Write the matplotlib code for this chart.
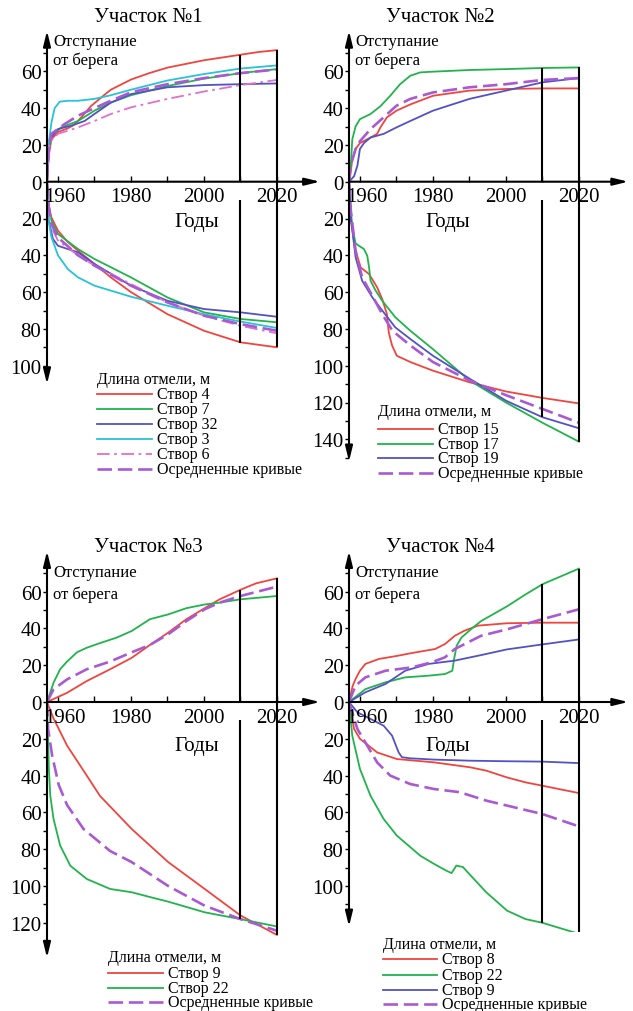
import numpy as np
import matplotlib.pyplot as plt
from matplotlib.lines import Line2D

plt.rcParams['font.family'] = ['Liberation Serif', 'DejaVu Serif']

# ---- data: (year, value); lower-panel values are shelf length (plotted downwards)
# Участок 1, отступание
p1_up_s4 = [(1957, 0), (1957.3, 12), (1958.2, 23), (1960, 27), (1962.7, 29), (1964.5, 31), (1966.4, 35),
            (1969, 41), (1972, 46), (1974.5, 50), (1980, 55.5), (1985, 59), (1990, 62), (1995, 64),
            (2000, 66), (2005, 67.5), (2010, 69), (2015, 70.5), (2020, 71.5)]
p1_up_s7 = [(1957, 0), (1957.5, 18), (1958.2, 25), (1960.9, 29.5), (1965.5, 33), (1970, 38.6), (1974.5, 43),
            (1980, 47), (1990, 52), (2000, 56), (2010, 59), (2020, 61.2)]
p1_up_s32 = [(1957, 0), (1957.5, 15), (1957.7, 23), (1960, 28.6), (1963.6, 30.4), (1967.3, 33), (1970, 36.8),
             (1974.5, 43), (1980, 47.6), (1990, 51.3), (2000, 52.5), (2010, 53), (2020, 53.4)]
p1_up_s3 = [(1957, 0), (1957.3, 18), (1958.2, 32), (1959.1, 40), (1960.5, 43.5), (1962.7, 44), (1965.5, 44),
            (1970, 45), (1974.5, 47), (1980, 50), (1990, 55), (2000, 58.5), (2010, 61.5), (2020, 63.2)]
p1_up_s6 = [(1957, 0), (1957.5, 14), (1957.7, 21.4), (1960, 26), (1965.5, 29.5), (1970, 33), (1974.5, 36.8),
            (1980, 40.4), (1990, 45), (2000, 49), (2010, 52.5), (2020, 55.3)]
p1_up_avg = [(1957, 0), (1957.5, 18), (1958.2, 26), (1961.8, 31.3), (1965.5, 35.9), (1970, 40), (1974.5, 44),
             (1980, 48.6), (1990, 53), (2000, 56.3), (2010, 59), (2020, 61)]
# Участок 1, длина отмели
p1_dn_s4 = [(1957, 0), (1957.3, 12), (1958.2, 19.4), (1960, 26.6), (1962.7, 32.8), (1965.5, 37.5), (1970, 44.7),
            (1974.5, 52), (1980, 60), (1990, 72), (2000, 81), (2010, 87.3), (2020, 90)]
p1_dn_s7 = [(1957, 0), (1957.3, 10), (1958.2, 21), (1960, 28.4), (1965.5, 36.6), (1970, 42), (1980, 52),
            (1990, 62.9), (2000, 71), (2010, 74.6), (2020, 76.4)]
p1_dn_s32 = [(1957, 0), (1957.3, 19.4), (1958.6, 31), (1960, 34.8), (1962.7, 36.6), (1965.5, 38.4), (1970, 44.7),
             (1980, 56.5), (1990, 64.7), (2000, 69.2), (2010, 71), (2020, 73.4)]
p1_dn_s3 = [(1957, 0), (1957.3, 19.4), (1958.2, 30), (1960, 40), (1962.7, 47.5), (1965.5, 52), (1970, 56.5),
            (1974.5, 59.2), (1980, 62.5), (1990, 67.4), (2000, 72), (2010, 76), (2020, 79.5)]
p1_dn_s6 = [(1957, 0), (1957.5, 15), (1958.2, 24.8), (1960, 32), (1965.5, 40), (1970, 45.6), (1980, 55.6),
            (1990, 65.6), (2000, 72.8), (2010, 78.3), (2020, 82.4)]
p1_dn_avg = [(1957, 0), (1957.5, 14), (1958.2, 23), (1960, 30.3), (1965.5, 40), (1970, 45.6), (1980, 56.5),
             (1990, 65.6), (2000, 72.8), (2010, 77.4), (2020, 81)]

# Участок 2
p2_up_s15 = [(1957, 0), (1957.3, 3), (1957.9, 12), (1958.8, 17.8), (1960, 21), (1962.9, 24), (1964.7, 26),
             (1965.6, 29.5), (1967.4, 35), (1970, 38.6), (1973.8, 42), (1980, 46.7), (1990, 49.5), (2000, 50.4),
             (2010, 50.7), (2020, 50.7)]
p2_up_s17 = [(1957, 0), (1957.5, 9), (1957.9, 23), (1958.8, 30), (1960, 34), (1962.9, 36.8), (1965.6, 41),
             (1968.3, 46.7), (1971, 53), (1973.8, 57.6), (1976.5, 59.4), (1980, 59.8), (1990, 60.7), (2000, 61.2),
             (2010, 61.8), (2020, 62.1)]
p2_up_s19 = [(1957, 0), (1958.4, 3), (1959.3, 8.7), (1960, 17.8), (1961.1, 21), (1962.9, 24), (1966.5, 26),
             (1970, 29.5), (1973.8, 33), (1980, 38.6), (1990, 45), (2000, 49.5), (2010, 54), (2020, 56.3)]
p2_up_avg = [(1957, 0), (1957.5, 9), (1958.8, 17.8), (1960, 22), (1962.9, 28.6), (1966.5, 35), (1970, 41.3),
             (1973.8, 45), (1980, 48.5), (1990, 51.3), (2000, 53), (2010, 55.3), (2020, 56.3)]
p2_dn_s15 = [(1957, 0), (1957.5, 21), (1958.8, 37.5), (1960.2, 46.6), (1962.5, 50.2), (1964.7, 57.4),
             (1966.1, 63.8), (1967.4, 72), (1967.9, 82), (1968.8, 89), (1970.1, 94.6), (1973.8, 98),
             (1980, 102.7), (1990, 109), (2000, 114), (2010, 117.5), (2020, 120.5)]
p2_dn_s17 = [(1957, 0), (1957.3, 10), (1957.9, 24.8), (1958.8, 33.5), (1959.7, 34.8), (1961.1, 36.6),
             (1962, 40.2), (1962.5, 46.6), (1962.9, 53.8), (1964.3, 59.2), (1966.1, 64.7), (1969.7, 73.7),
             (1973.8, 81), (1980, 91), (1990, 108), (2000, 120), (2010, 131), (2020, 141.3)]
p2_dn_s19 = [(1957, 0), (1957.5, 19.4), (1958.8, 41), (1960.6, 53.8), (1963.4, 62.9), (1966.1, 70),
             (1969.7, 79.2), (1973.8, 85.5), (1980, 94.6), (1990, 107), (2000, 119), (2010, 128), (2020, 134)]
p2_dn_avg = [(1957, 0), (1957.5, 15.8), (1958.8, 37.5), (1960.6, 52), (1963.4, 62), (1966.1, 72),
             (1968.9, 81), (1973.8, 89), (1980, 98), (1990, 108), (2000, 116), (2010, 123.5), (2020, 131)]

# Участок 3
p3_up_s9 = [(1957, 0), (1962.5, 5), (1967.9, 11.4), (1974.3, 17.8), (1980.2, 24), (1985.2, 31), (1990.2, 37.7),
            (1995.2, 45), (2000.2, 51), (2004.3, 55.8), (2010, 61), (2014.3, 64.5), (2020, 67.2)]
p3_up_s22 = [(1957, 0), (1958.8, 10.5), (1960.6, 17.8), (1962.5, 22), (1965.2, 27), (1967.9, 29.5),
             (1971.5, 32), (1976.1, 35), (1980.2, 38.6), (1985.2, 45), (1990.2, 47.6), (1995.2, 51),
             (2000.2, 53), (2004.3, 54), (2010, 55.8), (2020, 57.6)]
p3_up_avg = [(1957, 0), (1958.8, 6.9), (1962.5, 12.3), (1967.9, 17.8), (1974.3, 22), (1980.2, 27),
             (1985.2, 31), (1990.2, 36.8), (1995.2, 44), (2000.2, 50.4), (2004.3, 54), (2010, 57.6), (2020, 62.7)]
p3_dn_s9 = [(1957, 0), (1958.8, 9), (1962.5, 23.7), (1967.9, 40), (1971.5, 51), (1980.2, 69), (1990.2, 87),
            (2000.2, 101.6), (2010, 116), (2020, 126.6)]
p3_dn_s22 = [(1957, 0), (1957.1, 9), (1957.3, 20), (1957.5, 36), (1957.9, 51), (1958.8, 63.6), (1960.6, 78),
             (1963.4, 89), (1967.9, 96.2), (1974.3, 101.6), (1980.2, 103.4), (1985.2, 106), (1990.2, 108.5),
             (2000.2, 114.3), (2010, 118), (2020, 122)]
p3_dn_avg = [(1957, 0), (1957.3, 14.7), (1958.4, 29), (1960.2, 45), (1962.5, 56), (1967, 69), (1974.3, 81),
             (1980.2, 87), (1990.2, 100), (2000.2, 110.7), (2010, 118), (2020, 124.3)]

# Участок 4
p4_up_s8 = [(1957, 0), (1958, 8.7), (1958.8, 12.5), (1960, 17), (1961.5, 20.7), (1965.2, 23.4), (1970, 25),
            (1974.2, 26.6), (1980.6, 28.8), (1983.3, 31.5), (1986, 36), (1988.7, 38.8), (1992.3, 41.5),
            (2000.3, 42.8), (2010, 43.1), (2020, 43.1)]
p4_up_s22 = [(1957, 0), (1961.5, 7), (1967, 10.7), (1972.4, 13.4), (1978.8, 14.3), (1983.3, 15.2),
             (1985.3, 17), (1985.8, 23.4), (1986.5, 30.6), (1987.8, 35), (1990.5, 39.7), (1993.2, 44),
             (2000.3, 52), (2005.4, 58.5), (2010, 64), (2020, 72.5)]
p4_up_s9 = [(1957, 0), (1961.5, 5.3), (1967, 9.8), (1972.4, 17), (1978.8, 20.7), (1986, 22.5), (1993.2, 25.5),
            (2000.3, 28.6), (2010, 31.3), (2020, 34)]
p4_up_avg = [(1957, 0), (1958.8, 8.9), (1961.5, 13.4), (1967, 17), (1974.2, 18.8), (1979.7, 21.6),
             (1983.3, 24.3), (1986, 28.8), (1990.5, 33.3), (1993.2, 36), (2000.3, 39.5), (2010, 45), (2020, 50.4)]
p4_dn_s8 = [(1957, 0), (1958.4, 14.7), (1960, 20), (1964.7, 27.4), (1970.1, 31), (1980.3, 32.8), (1990.2, 35.5),
            (1994.6, 37.3), (2000.3, 41), (2005.4, 43.7), (2010, 45.5), (2020, 49.5)]
p4_dn_s22 = [(1957, 0), (1957.9, 18.3), (1960, 36.4), (1962.9, 51), (1966.5, 63.6), (1970.1, 72.6),
             (1976.5, 83.5), (1980.3, 88), (1983.7, 91.7), (1985.1, 93), (1986.4, 88.9), (1988.2, 89.7),
             (1990.2, 94), (1994.6, 103.4), (2000.3, 113.4), (2005.4, 118), (2010, 120), (2020, 126)]
p4_dn_s9 = [(1957, 0), (1959.3, 5.6), (1962.9, 9.2), (1966.5, 12.9), (1968.8, 18.3), (1970.6, 27.4),
            (1971.5, 30), (1973.8, 30.6), (1980.3, 31.3), (1990.2, 31.9), (2000.3, 32.2), (2010, 32.4), (2020, 33.2)]
p4_dn_avg = [(1957, 0), (1959.3, 14.7), (1962, 23.7), (1964.7, 32.8), (1968.3, 40), (1973.8, 44.6),
             (1980.3, 47.3), (1987.3, 49), (1994.6, 53.6), (2000.3, 56.3), (2010, 60.9), (2020, 67.6)]

# legend labels
p1_labels = ['Створ 4', 'Створ 7', 'Створ 32', 'Створ 3', 'Створ 6', 'Осредненные кривые']
p2_labels = ['Створ 15', 'Створ 17', 'Створ 19', 'Осредненные кривые']
p3_labels = ['Створ 9', 'Створ 22', 'Осредненные кривые']
p4_labels = ['Створ 8', 'Створ 22', 'Створ 9', 'Осредненные кривые']

# vertical marks at 2010 / 2020 (top value, bottom value)
p1_vlines = [(69, 87.5), (71.5, 90)]
p2_vlines = [(61.8, 128), (62.1, 141.3)]
p3_vlines = [(61, 118), (67.2, 126.6)]
p4_vlines = [(64, 120), (72.5, 126)]

x_labels = [1960, 1980, 2000, 2020]

# ---- styles
RED = '#f0453f'
GREEN = '#22b34c'
BLUE = '#5252c4'
CYAN = '#27c3d6'
PINK = '#e070cc'
PURPLE = '#a95ad2'
sty = {
    'red': dict(color=RED, lw=1.3),
    'green': dict(color=GREEN, lw=1.3),
    'blue': dict(color=BLUE, lw=1.3),
    'cyan': dict(color=CYAN, lw=1.3),
    'pink': dict(color=PINK, lw=1.3, dashes=(7, 2.5, 1.5, 2.5)),
    'avg': dict(color=PURPLE, lw=1.9, dashes=(5.5, 2.2)),
}

W, H = 633, 1012
fig = plt.figure(figsize=(W / 100, H / 100), dpi=100)


def fx(x):
    return x / W


def fy(y):
    return 1 - y / H


X0, X1 = 1957, 2034
PX_YEAR = 3.65
PX_UNIT = 1.84


def make_panel(left, zero, top, bottom, xtip, ytop, ybot, ylab_max):
    ax = fig.add_axes([fx(left), fy(zero + bottom * PX_UNIT),
                       (X1 - X0) * PX_YEAR / W, (top + bottom) * PX_UNIT / H])
    ax.set_xlim(X0, X1)
    ax.set_ylim(-bottom, top)
    ax.patch.set_alpha(0)
    for s in ax.spines.values():
        s.set_visible(False)
    ax.spines['bottom'].set_position(('data', 0))
    ax.spines['left'].set_position(('data', X0))
    # ticks
    ax.set_xticks(np.arange(1960, 2021, 10))
    ax.set_xticklabels([])
    ax.tick_params(axis='x', direction='in', length=4, width=1)
    major = np.arange(-ylab_max, 61, 20)
    ax.set_yticks(major)
    ax.set_yticklabels([str(abs(int(v))) for v in major])
    ax.set_yticks(np.arange(-(ylab_max + 10 if ylab_max + 10 < ybot else ylab_max), 71, 10), minor=True)
    ax.tick_params(axis='y', which='both', direction='out', length=3, width=1, labelsize=15, pad=1)
    # axes with arrows
    arr = dict(arrowstyle='-|>,head_length=0.9,head_width=0.22', color='black', lw=1.5,
               shrinkA=0, shrinkB=0, mutation_scale=10)
    ax.annotate('', xy=(X0, ytop), xytext=(X0, 0), arrowprops=arr, annotation_clip=False)
    ax.annotate('', xy=(X0, -ybot), xytext=(X0, 0), arrowprops=arr, annotation_clip=False)
    ax.annotate('', xy=(xtip, 0), xytext=(X0, 0), arrowprops=arr, annotation_clip=False)
    # x labels
    for yr in x_labels:
        dx = 5 if yr == 1960 else 0
        ax.annotate(str(yr), xy=(yr, 0), xytext=(dx, -4), textcoords='offset points',
                    ha='center', va='top', fontsize=15)
    return ax


def draw_series(ax, up, dn, keys):
    for u, d, k in zip(up, dn, keys):
        ax.plot([p[0] for p in u], [p[1] for p in u], **sty[k])
        ax.plot([p[0] for p in d], [-p[1] for p in d], **sty[k])


def draw_vlines(ax, vl):
    (t1, b1), (t2, b2) = vl
    ax.vlines([2010, 2010, 2020], [0, -b1, -b2], [t1, -10, t2], color='black', lw=1.5)


def draw_legend(x_line, x_text, y_head, rows, labels, keys):
    fig.text(fx(x_line), fy(y_head), 'Длина отмели, м', ha='left', va='center', fontsize=11.5)
    for y, lab, k in zip(rows, labels, keys):
        fig.add_artist(Line2D([fx(x_line), fx(x_text - 5)], [fy(y), fy(y)], transform=fig.transFigure, **sty[k]))
        fig.text(fx(x_text), fy(y), lab, ha='left', va='center', fontsize=11.5)


def panel_texts(title, axis_x, title_x, god_x, title_y, ot_y, god_y):
    fig.text(fx(title_x), fy(title_y), title, ha='center', va='center', fontsize=15)
    fig.text(fx(axis_x + 6), fy(ot_y[0]), 'Отступание', ha='left', va='center', fontsize=12)
    fig.text(fx(axis_x + 6), fy(ot_y[1]), 'от берега', ha='left', va='center', fontsize=12)
    fig.text(fx(god_x), fy(god_y), 'Годы', ha='center', va='center', fontsize=15)


# panel 1
keys1 = ['red', 'green', 'blue', 'cyan', 'pink', 'avg']
ax1 = make_panel(47, 182.7, 84, 113, 2031.8, 82, 110, 100)
draw_series(ax1, [p1_up_s4, p1_up_s7, p1_up_s32, p1_up_s3, p1_up_s6, p1_up_avg],
            [p1_dn_s4, p1_dn_s7, p1_dn_s32, p1_dn_s3, p1_dn_s6, p1_dn_avg], keys1)
draw_vlines(ax1, p1_vlines)
panel_texts('Участок №1', 47, 148, 197, 18, (42, 61), 222)
draw_legend(97, 157, 380, [395, 410, 425, 440, 455, 470], p1_labels, keys1)

# panel 2
keys2 = ['red', 'green', 'blue', 'avg']
ax2 = make_panel(349, 182.7, 84, 155, 2033.5, 82, 152, 140)
draw_series(ax2, [p2_up_s15, p2_up_s17, p2_up_s19, p2_up_avg],
            [p2_dn_s15, p2_dn_s17, p2_dn_s19, p2_dn_avg], keys2)
draw_vlines(ax2, p2_vlines)
panel_texts('Участок №2', 349, 440, 448, 18, (42, 61), 222)
draw_legend(378, 438, 412, [430, 445, 459, 474], p2_labels, keys2)

# panel 3
keys3 = ['red', 'green', 'avg']
ax3 = make_panel(47, 703, 84, 142, 2031.8, 82, 139, 120)
draw_series(ax3, [p3_up_s9, p3_up_s22, p3_up_avg], [p3_dn_s9, p3_dn_s22, p3_dn_avg], keys3)
draw_vlines(ax3, p3_vlines)
panel_texts('Участок №3', 47, 148, 197, 547, (573, 595), 747)
draw_legend(108, 168, 958, [974, 989, 1003], p3_labels, keys3)

# panel 4
keys4 = ['red', 'green', 'blue', 'avg']
ax4 = make_panel(349, 703, 84, 125, 2033.5, 82, 122, 100)
draw_series(ax4, [p4_up_s8, p4_up_s22, p4_up_s9, p4_up_avg],
            [p4_dn_s8, p4_dn_s22, p4_dn_s9, p4_dn_avg], keys4)
draw_vlines(ax4, p4_vlines)
panel_texts('Участок №4', 349, 440, 448, 547, (573, 595), 747)
draw_legend(383, 442, 945, [960, 976, 991, 1005], p4_labels, keys4)

fig.savefig('out.png', dpi=100)
